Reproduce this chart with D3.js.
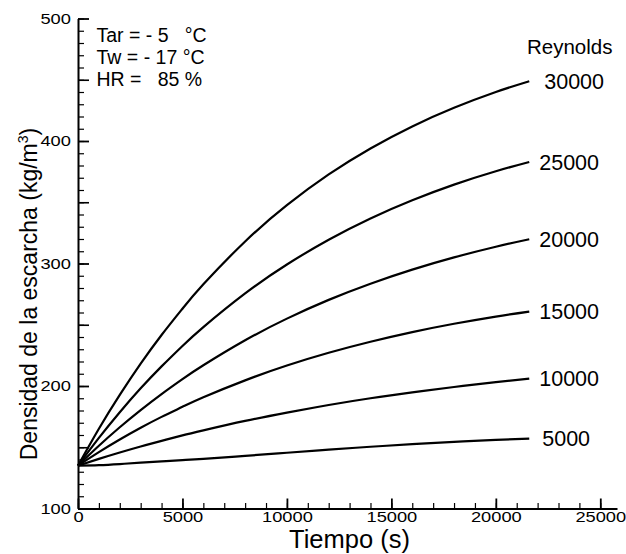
<!DOCTYPE html>
<html>
<head>
<meta charset="utf-8">
<script src="https://cdn.jsdelivr.net/npm/d3@7"></script>
<style>
  body { margin: 0; background: #fff; }
  svg text { font-family: "Liberation Sans", Arial, sans-serif; fill: #000; }
</style>
</head>
<body>
<div id="chart"></div>
<script>
// tiempo (s) and frost density (kg/m3) for each Reynolds number
var tiempo = [0, 1000, 2000, 3000, 4000, 5000, 6000, 8000, 10000, 12000, 14000, 16000, 18000, 20000, 21600];
var re5000  = [135, 135.4, 136.3, 137.4, 138.5, 139.5, 140.5, 143, 145.5, 148, 150.4, 152.5, 154.4, 156, 157];
var re10000 = [135, 140.5, 145.7, 150.6, 155.2, 159.7, 163.8, 171.5, 178.3, 184.5, 190, 194.8, 199.2, 203.2, 206];
var re15000 = [135, 146, 156.3, 165.9, 174.8, 183, 190.8, 204.6, 216.7, 227.1, 236.1, 244, 250.8, 256.7, 260.8];
var re20000 = [135, 151.2, 166.3, 180.3, 193.4, 205.6, 216.9, 237.3, 255, 270.3, 283.5, 295, 305, 313.7, 319.8];
var re25000 = [135, 157.6, 178.6, 198.1, 216, 232.7, 248.1, 275.6, 299.2, 319.4, 336.8, 351.6, 364.4, 375.3, 382.9];
var re30000 = [135, 165.1, 192.7, 218.2, 241.6, 263.1, 283, 318, 347.6, 372.7, 393.9, 411.9, 427.1, 440, 448.8];

var reynolds = ["5000", "10000", "15000", "20000", "25000", "30000"];
var series = [re5000, re10000, re15000, re20000, re25000, re30000];

var condiciones = ["Tar = - 5   \u00b0C", "Tw = - 17 \u00b0C", "HR =   85 %"];

var xTicks = [0, 5000, 10000, 15000, 20000, 25000];
var yTicks = [100, 200, 300, 400, 500];

var width = 626, height = 554;

var svg = d3.select("#chart").append("svg")
    .attr("width", width)
    .attr("height", height);

svg.append("rect").attr("width", width).attr("height", height).attr("fill", "#fff");

var x = d3.scaleLinear().domain([0, 25800]).range([78, 617]);
var y = d3.scaleLinear().domain([100, 500]).range([508.5, 18.5]);

// minor ticks first, then the major axes on top
svg.append("g")
    .attr("transform", "translate(0," + y(100) + ")")
    .call(d3.axisBottom(x).tickValues(d3.range(0, 25001, 1000)).tickSizeInner(-5.5).tickSizeOuter(0).tickFormat(""))
    .call(g => g.select(".domain").remove())
    .call(g => g.selectAll("line").attr("stroke-width", 1.2));

svg.append("g")
    .attr("transform", "translate(" + x(0) + ",0)")
    .call(d3.axisLeft(y).tickValues(d3.range(100, 501, 10)).tickSizeInner(-6).tickSizeOuter(0).tickFormat(""))
    .call(g => g.select(".domain").remove())
    .call(g => g.selectAll("line").attr("stroke-width", 1.2));

svg.append("g")
    .attr("transform", "translate(" + x(0) + ",0)")
    .call(d3.axisLeft(y).tickValues(d3.range(150, 500, 100)).tickSizeInner(-11).tickSizeOuter(0).tickFormat(""))
    .call(g => g.select(".domain").remove())
    .call(g => g.selectAll("line").attr("stroke-width", 1.6));

var xAxis = svg.append("g")
    .attr("transform", "translate(0," + y(100) + ")")
    .call(d3.axisBottom(x).tickValues(xTicks).tickSizeInner(-10).tickSizeOuter(0).tickPadding(2).tickFormat(d3.format("d")));

var yAxis = svg.append("g")
    .attr("transform", "translate(" + x(0) + ",0)")
    .call(d3.axisLeft(y).tickValues(yTicks).tickSizeInner(-11).tickSizeOuter(0).tickPadding(6).tickFormat(d3.format("d")));

[xAxis, yAxis].forEach(function(g) {
    g.attr("font-size", 15.5).attr("font-family", "Liberation Sans, Arial, sans-serif");
    g.select(".domain").attr("stroke-width", 2);
    g.selectAll(".tick line").attr("stroke-width", 1.8);
    g.selectAll(".tick text").attr("transform", "scale(1.18,1)");
});

var line = d3.line()
    .x(function(d, i) { return x(tiempo[i]); })
    .y(function(d) { return y(d); })
    .curve(d3.curveNatural);

svg.append("g")
    .selectAll("path")
    .data(series)
    .enter().append("path")
        .attr("d", line)
        .attr("fill", "none")
        .attr("stroke", "#000")
        .attr("stroke-width", 2.2);

var last = tiempo.length - 1;
svg.append("g")
    .selectAll("text")
    .data(series)
    .enter().append("text")
        .attr("x", function(d, i) { return x(tiempo[last]) + (i === 5 ? 15 : (i === 0 ? 13 : 10)); })
        .attr("y", function(d) { return y(d[last]); })
        .attr("dy", "0.36em")
        .attr("font-size", 21.5)
        .text(function(d, i) { return reynolds[i]; });

svg.append("text")
    .attr("x", 527)
    .attr("y", 54)
    .attr("font-size", 20.5)
    .text("Reynolds");

svg.append("g")
    .selectAll("text")
    .data(condiciones)
    .enter().append("text")
        .attr("x", 96.5)
        .attr("y", function(d, i) { return 42.3 + i * 21.8; })
        .attr("font-size", 19.5)
        .style("white-space", "pre")
        .text(function(d) { return d; });

svg.append("text")
    .attr("x", 349.5)
    .attr("y", 548)
    .attr("text-anchor", "middle")
    .attr("font-size", 25.5)
    .text("Tiempo (s)");

var ylab = svg.append("text")
    .attr("transform", "translate(36.5,294) rotate(-90)")
    .attr("text-anchor", "middle")
    .attr("font-size", 23);
ylab.append("tspan").text("Densidad de la escarcha (kg/m");
ylab.append("tspan").attr("font-size", 14).attr("dy", -9).text("3");
ylab.append("tspan").attr("dy", 9).text(")");
</script>
</body>
</html>
